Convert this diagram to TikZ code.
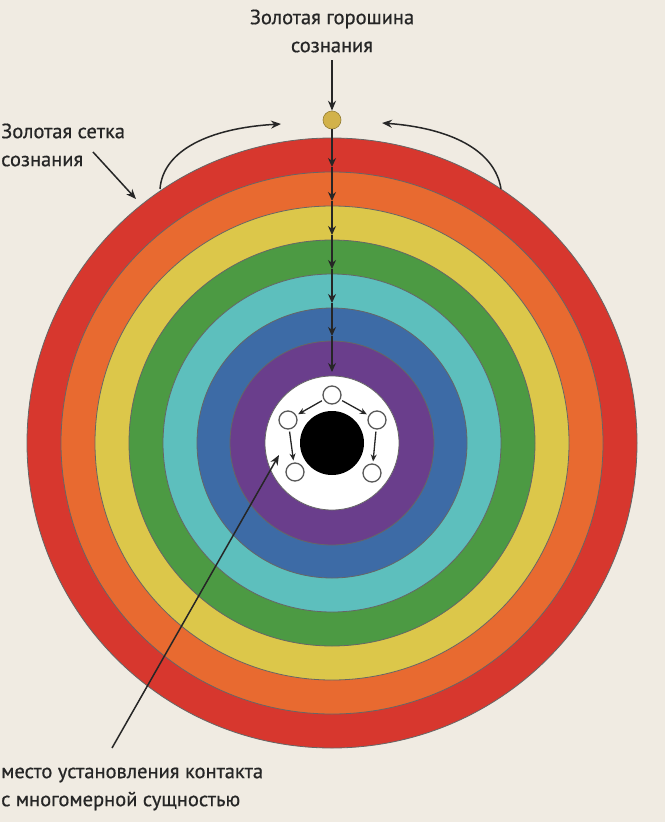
\documentclass[tikz,border=0pt]{standalone}
\usepackage{fontspec}
\setmainfont{PT Sans}[FakeBold=0.6]
\usetikzlibrary{arrows.meta}
\definecolor{bg}{HTML}{F0EBE2}
\definecolor{cred}{HTML}{D7372E}
\definecolor{corange}{HTML}{E86A30}
\definecolor{cyellow}{HTML}{DCC74A}
\definecolor{cgreen}{HTML}{4C9A43}
\definecolor{ccyan}{HTML}{5DBFBD}
\definecolor{cblue}{HTML}{3D6BA6}
\definecolor{cpurple}{HTML}{6A3E8C}
\definecolor{cgold}{HTML}{D2B24A}
\definecolor{ink}{HTML}{262626}
\begin{document}
\begin{tikzpicture}[x=1pt,y=-1pt,
  lab/.style={font=\fontsize{20.5}{28}\selectfont, text=ink, inner sep=0pt},
  arr/.style={draw=ink, line width=1.5pt, -{Stealth[length=10pt,width=8pt]}},
  ringarr/.style={draw=ink, line width=1.4pt, -{Stealth[length=9pt,width=8pt]}},
  ring/.style={draw=black!60, line width=0.8pt},
  smallc/.style={circle, draw=black!65, fill=white, line width=1.3pt, minimum size=18pt, inner sep=0pt},
  carr/.style={draw=ink, line width=1.3pt, shorten <=2pt, shorten >=2pt, -{Stealth[length=7pt,width=6pt]}}]
\useasboundingbox (0,0) rectangle (665,822);
\fill[bg] (0,0) rectangle (665,822);
% rings
\foreach \r/\c in {305/cred,271/corange,237/cyellow,203/cgreen,169/ccyan,135/cblue,102/cpurple,67/white}
  \filldraw[ring, fill=\c] (332,443) circle[radius=\r pt];
\fill[black] (332,443) circle[radius=32pt];
% gold pea
\node[circle, fill=cgold, draw=cgold!70!black, line width=0.6pt, minimum size=18pt, inner sep=0pt] (pea) at (332,120) {};
\node[lab, align=center] (peatxt) at (332,31) {Золотая горошина\\сознания};
\draw[arr] (332,60) coordinate (pt1) -- (pea.north);
% vertical chain of arrows
\coordinate (v0) at (332,138);
\coordinate (v1) at (332,167);
\coordinate (v2) at (332,201);
\coordinate (v3) at (332,235);
\coordinate (v4) at (332,269);
\coordinate (v5) at (332,303);
\coordinate (v6) at (332,336);
\coordinate (v7) at (332,372);
\draw[draw=ink, line width=1.4pt] (pea.south) -- (v0);
\foreach \a/\b in {v0/v1,v1/v2,v2/v3,v3/v4,v4/v5,v5/v6,v6/v7}
  \draw[ringarr] (\a) -- (\b);
% golden grid label
\node[lab, align=left, anchor=west] (grid) at (1,145) {Золотая сетка\\сознания};
\coordinate (g1) at (93,152);
\coordinate (g2) at (136,199);
\draw[arr] (g1) -- (g2);
% curved arrows
\coordinate (la) at (160,189);
\coordinate (lb) at (281,124);
\coordinate (ra) at (501,189);
\coordinate (rb) at (382,123);
\draw[arr] (la) .. controls (163,150) and (210,128) .. (lb);
\draw[arr] (ra) .. controls (495,150) and (450,128) .. (rb);
% inner small circles
\node[smallc] (c0) at (332,395) {};
\node[smallc] (c1) at (288,420) {};
\node[smallc] (c2) at (377,420) {};
\node[smallc] (c3) at (295,472) {};
\node[smallc] (c4) at (372,473) {};
\draw[carr] (c0) -- (c1);
\draw[carr] (c0) -- (c2);
\draw[carr] (c1) -- (c3);
\draw[carr] (c2) -- (c4);
% contact label
\node[lab, align=left, anchor=west] (contact) at (1,789) {место установления контакта\\с многомерной сущностью};
\coordinate (k1) at (112,748);
\coordinate (k2) at (279,455);
\draw[arr] (k1) -- (k2);
\end{tikzpicture}
\end{document}
